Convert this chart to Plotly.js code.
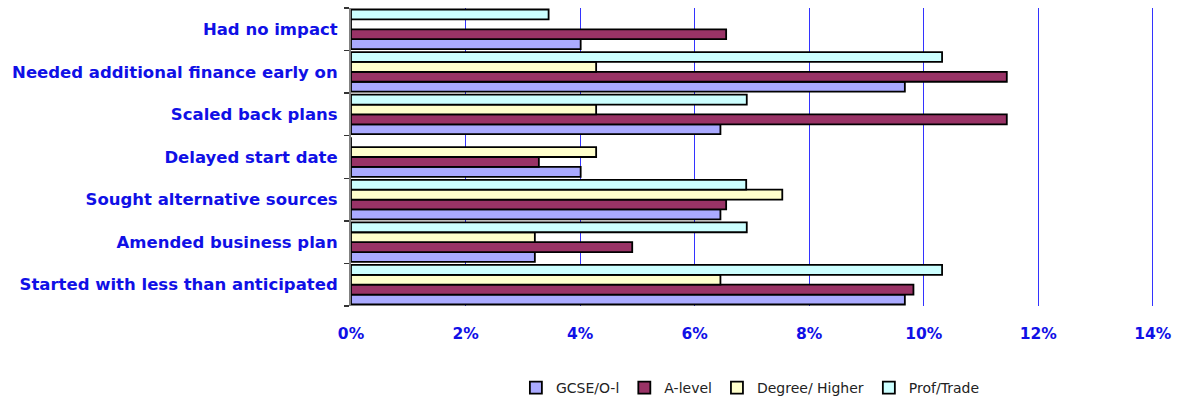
<!DOCTYPE html>
<html>
<head>
<meta charset="utf-8">
<script src="https://cdn.plot.ly/plotly-3.0.1.min.js"></script>
<style>html,body{margin:0;padding:0;background:#fff;}#chart{width:1178px;height:400px;}</style>
</head>
<body>
<div id="chart"></div>
<script>
// Categories listed bottom to top (as drawn)
var categories = [
  "Started with less than anticipated",
  "Amended business plan",
  "Sought alternative sources",
  "Delayed start date",
  "Scaled back plans",
  "Needed additional finance early on",
  "Had no impact"
];
var seriesNames = ["GCSE/O-l", "A-level", "Degree/ Higher", "Prof/Trade"];
var gcse   = [9.67, 3.21, 6.45, 4.01, 6.45, 9.67, 4.01];
var alevel = [9.82, 4.91, 6.55, 3.28, 11.45, 11.45, 6.55];
var degree = [6.45, 3.21, 7.53, 4.28, 4.28, 4.28, 0];
var prof   = [10.32, 6.91, 6.90, 0, 6.91, 10.32, 3.45];
var xTickVals = [0, 2, 4, 6, 8, 10, 12, 14];
var xTickText = ["0%", "2%", "4%", "6%", "8%", "10%", "12%", "14%"];

var colors = ["#AAAAFF", "#993366", "#FFFFCC", "#CCFFFF"];
var values = [gcse, alevel, degree, prof];

var traces = values.map(function(v, i) {
  return {
    type: "bar",
    orientation: "h",
    name: seriesNames[i],
    y: categories,
    x: v,
    marker: {color: colors[i], line: {color: "#000000", width: 1.8}},
    hoverinfo: "x+y"
  };
});

var layout = {
  width: 1178, height: 400,
  margin: {l: 351, r: 24, t: 8, b: 94},
  paper_bgcolor: "#ffffff",
  plot_bgcolor: "#ffffff",
  barmode: "group",
  bargap: 0.07,
  bargroupgap: 0,
  font: {family: "DejaVu Sans, sans-serif", color: "#000"},
  xaxis: {
    range: [0, 14.02],
    tickvals: xTickVals,
    ticktext: xTickText,
    showgrid: true,
    gridcolor: "#3333ff",
    gridwidth: 1,
    zeroline: false,
    showline: false,
    ticks: "",
    automargin: false,
    ticklabelstandoff: 16,
    tickfont: {family: "DejaVu Sans, sans-serif", size: 15.5, color: "#1010e6", weight: "bold"},
    fixedrange: true
  },
  yaxis: {
    type: "category",
    automargin: false,
    showline: true,
    linecolor: "#808080",
    linewidth: 2,
    ticks: "outside",
    tickson: "boundaries",
    ticklen: 5,
    tickcolor: "#333333",
    tickwidth: 1.5,
    showgrid: false,
    ticklabelstandoff: 8,
    tickfont: {family: "DejaVu Sans, sans-serif", size: 16.5, color: "#1010e6", weight: "bold"},
    fixedrange: true
  },
  legend: {
    orientation: "h",
    xref: "container", yref: "container",
    x: 0.637, xanchor: "center",
    y: 0.03, yanchor: "middle",
    font: {family: "DejaVu Sans, sans-serif", size: 14, color: "#222"},
    itemclick: false, traceorder: "normal"
  },
  showlegend: true
};

Plotly.newPlot("chart", traces, layout, {displayModeBar: false, staticPlot: true});
</script>
</body>
</html>
